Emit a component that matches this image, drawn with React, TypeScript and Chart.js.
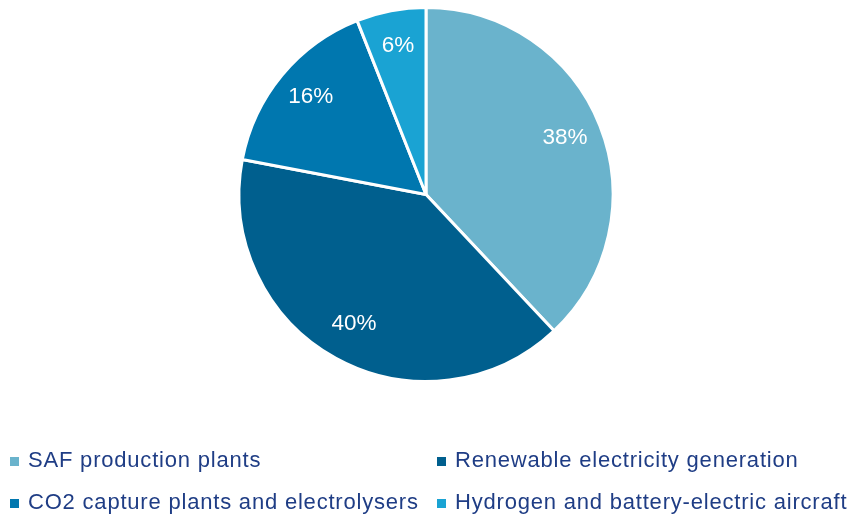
import React, { useEffect, useRef } from "react";
import { Chart, registerables } from "chart.js";

Chart.register(...registerables);

const categories = [
  "SAF production plants",
  "Renewable electricity generation",
  "CO2 capture plants and electrolysers",
  "Hydrogen and battery-electric aircraft",
];
const shares = [38, 40, 16, 6];
const colors = ["#6AB3CC", "#005F8E", "#0077AF", "#1AA3D3"];
const textColor = "#1F3D85";
const FONT = "Liberation Sans, Arial, sans-serif";

const overlayPlugin = {
  id: "overlay",
  afterDatasetsDraw(chart: any) {
    const ctx = chart.ctx;
    const meta = chart.getDatasetMeta(0);
    ctx.save();
    ctx.fillStyle = "#FFFFFF";
    ctx.font = `22.5px ${FONT}`;
    ctx.textAlign = "center";
    ctx.textBaseline = "middle";
    meta.data.forEach((arc: any, i: number) => {
      const { x, y, startAngle, endAngle, outerRadius } = arc.getProps(
        ["x", "y", "startAngle", "endAngle", "outerRadius"],
        true
      );
      const mid = (startAngle + endAngle) / 2;
      const r = outerRadius * 0.8;
      ctx.fillText(`${shares[i]}%`, x + Math.cos(mid) * r, y + Math.sin(mid) * r - 2);
    });
    ctx.restore();

    // legend
    ctx.save();
    ctx.font = `22px ${FONT}`;
    (ctx as any).letterSpacing = "0.8px";
    ctx.textBaseline = "middle";
    ctx.textAlign = "left";
    const cols = [10, 437];
    const rows = [461, 503];
    categories.forEach((c, i) => {
      const cx = cols[i % 2];
      const cy = rows[Math.floor(i / 2)];
      ctx.fillStyle = colors[i];
      ctx.fillRect(cx, cy - 4, 9, 9);
      ctx.fillStyle = textColor;
      ctx.fillText(c, cx + 18, cy);
    });
    ctx.restore();
  },
};

export default function App() {
  const ref = useRef<HTMLCanvasElement>(null);
  useEffect(() => {
    if (!ref.current) return;
    const chart = new Chart(ref.current, {
      type: "pie",
      data: {
        labels: categories,
        datasets: [
          {
            data: shares,
            backgroundColor: colors,
            borderColor: "#FFFFFF",
            borderWidth: 3,
          },
        ],
      },
      options: {
        animation: false,
        responsive: false,
        layout: { padding: { top: 6, bottom: 142, left: 0, right: 2 } },
        plugins: {
          legend: { display: false },
          tooltip: { enabled: false },
        },
      },
      plugins: [overlayPlugin],
    });
    return () => chart.destroy();
  }, []);
  return (
    <div style={{ position: "fixed", left: 0, top: 0, width: 854, height: 525, background: "#fff" }}>
      <canvas ref={ref} width={854} height={525} />
    </div>
  );
}
